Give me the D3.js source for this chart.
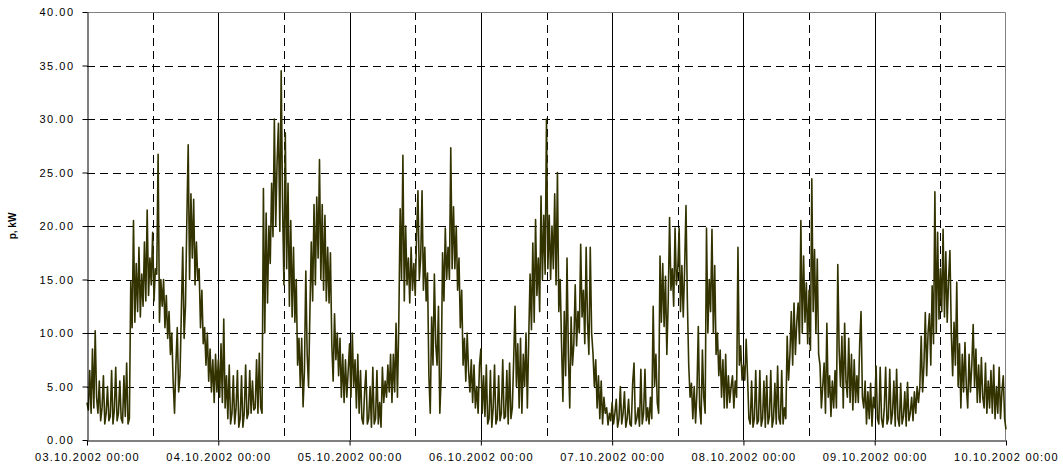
<!DOCTYPE html>
<html>
<head>
<meta charset="utf-8">
<script src="https://cdn.jsdelivr.net/npm/d3@7"></script>
<style>
  body { margin: 0; background: #fff; }
  text { font-family: "Liberation Sans", Arial, sans-serif; }
</style>
</head>
<body>
<div id="chart"></div>
<script>
// quarter-hourly readings, one array per day (kW), 4 values per hour
const day03 = [3.5,2.8,6.5,2.5, 8.5,3.0,10.2,4.0, 2.5,5.5,1.8,3.0, 6.0,1.5,2.5,5.0,
  1.8,2.2,6.5,1.5, 2.8,6.8,1.8,2.5, 5.5,2.0,1.6,6.0, 2.2,7.2,1.5,2.0,
  14.8,10.5,20.5,11.0, 16.5,12.0,18.0,11.5, 15.5,12.5,18.5,13.0, 21.5,13.5,17.0,14.5,
  19.4,13.0,16.0,15.5, 26.7,11.0,15.0,12.5, 15.0,10.5,13.5,9.5, 12.0,8.0,10.0,5.5,
  2.5,7.0,10.5,4.5, 6.0,12.0,18.0,9.5, 12.5,20.5,27.6,15.0, 23.0,17.0,22.5,14.5,
  18.5,15.0,16.0,10.5, 14.0,9.0,10.5,7.0, 10.0,5.5,8.5,4.5, 7.5,3.5,8.0,4.5];
const day04 = [7.5,4.0,9.0,3.5, 11.3,3.0,6.0,2.0, 7.0,1.5,2.5,6.0, 1.5,3.0,6.5,1.2,
  2.0,6.0,1.2,2.5, 7.0,2.0,2.5,6.5, 2.5,5.5,2.8,3.0, 7.5,2.5,8.1,3.0,
  2.5,23.5,10.0,21.2, 12.8,20.0,16.5,24.0, 19.0,30.0,20.0,26.0, 29.6,19.5,34.5,22.0,
  14.5,28.7,16.0,24.0, 12.5,20.5,11.5,18.0, 11.0,15.0,7.0,9.5, 5.0,9.5,3.1,6.5,
  15.8,8.0,5.0,12.0, 18.5,13.0,22.0,14.5, 22.7,17.0,26.2,15.0, 22.0,14.0,21.0,13.0,
  18.0,12.8,17.5,9.0, 5.5,11.8,7.5,10.0, 6.0,9.5,4.0,8.0, 3.5,7.5,4.0,6.5];
const day05 = [9.0,4.0,10.0,5.0, 7.5,3.0,8.0,2.5, 6.5,2.0,1.5,4.5, 6.5,1.5,2.0,5.0,
  1.2,6.8,1.5,2.0, 6.5,1.5,3.5,1.2, 6.8,3.5,5.5,4.0, 7.0,4.5,8.0,3.5,
  8.0,4.5,10.9,4.0, 11.0,21.6,15.0,26.6, 13.0,20.0,14.5,17.0, 12.8,18.0,14.0,16.5,
  13.5,19.0,23.3,15.0, 17.0,23.3,14.0,18.0, 13.0,15.6,6.0,2.5, 11.5,7.0,15.5,9.0,
  7.0,12.5,2.5,6.0, 17.5,13.0,19.8,15.0, 18.0,15.0,27.3,16.0, 21.8,16.0,20.0,14.0,
  17.0,10.5,14.0,7.0, 9.5,5.5,10.0,6.5, 4.5,7.5,3.5,7.0, 3.0,5.0,2.5,7.0];
const day06 = [8.5,2.5,6.0,2.2, 7.0,1.5,2.0,6.5, 1.2,3.0,7.0,1.5, 2.0,6.0,1.8,2.5,
  7.5,2.0,2.2,6.5, 1.5,7.2,2.0,3.0, 7.5,12.5,5.0,9.0, 3.0,9.5,2.5,8.0,
  5.0,10.0,3.0,9.5, 15.5,10.3,18.4,11.0, 20.6,13.5,17.0,12.0, 22.8,15.0,21.0,15.5,
  30.0,16.0,21.0,15.0, 20.0,16.0,23.0,14.5, 25.0,12.0,15.0,9.0, 3.6,12.0,6.0,17.0,
  8.0,3.0,11.5,7.0, 9.0,14.5,8.8,12.0, 10.0,18.3,11.5,14.0, 9.0,18.0,11.0,8.0,
  18.0,10.0,8.1,5.0, 7.5,3.0,6.0,2.0, 5.5,1.5,4.0,2.5, 3.0,1.4,2.5,1.8];
const day07 = [3.5,1.5,2.5,3.8, 1.2,2.0,5.0,1.5, 2.5,4.5,1.2,2.0, 3.8,1.5,1.3,5.3,
  7.2,1.5,2.0,3.0, 1.3,6.6,1.5,2.5, 6.6,1.8,3.0,1.5, 4.0,2.0,12.5,5.0,
  8.0,3.5,2.5,17.2, 11.0,16.5,10.6,15.3, 8.0,13.0,20.8,14.0, 16.0,12.5,19.8,14.5,
  16.0,19.8,12.0,16.3, 11.5,16.0,21.9,13.0, 7.0,4.0,5.3,2.0, 5.0,1.6,4.5,10.6,
  3.0,1.5,8.4,4.0, 2.5,19.8,10.0,15.0, 12.0,19.7,10.0,16.3, 8.0,10.0,6.0,8.4,
  4.0,7.5,3.0,8.0, 3.0,6.0,3.5,5.0, 6.0,3.0,5.5,4.0, 18.0,7.0,8.8,5.6];
const day08 = [7.0,5.6,9.4,6.0, 2.0,1.5,5.5,1.2, 2.0,6.5,1.5,1.8, 6.5,1.3,2.0,5.5,
  1.2,6.0,1.5,2.2, 6.5,1.2,2.0,5.3, 1.5,6.9,2.0,1.5, 6.5,1.5,3.0,2.0,
  9.7,5.6,8.0,12.0, 7.0,12.8,8.0,11.0, 12.8,9.0,20.5,10.0, 17.2,11.0,14.7,9.0,
  14.0,8.4,24.4,12.0, 17.8,10.0,16.9,8.0, 7.0,3.0,5.0,7.2, 2.5,10.9,4.0,6.0,
  2.2,5.5,3.0,6.5, 3.0,16.4,8.4,5.0, 9.7,3.0,10.9,5.5, 4.0,9.5,3.5,8.0,
  2.8,7.5,3.5,6.0, 3.5,9.0,12.0,4.0, 3.0,5.5,1.5,4.5, 2.0,5.3,1.3,4.0];
const day09 = [3.0,6.9,2.0,1.5, 6.8,2.0,1.2,3.0, 6.8,1.5,2.0,6.6, 1.5,2.5,5.5,1.3,
  6.6,2.0,1.3,5.3, 1.5,2.2,4.5,1.3, 5.4,1.8,2.5,4.0, 1.8,4.5,2.5,5.0,
  3.5,5.0,9.7,4.5, 7.0,11.9,6.0,10.0, 11.8,7.0,14.4,9.0, 23.2,10.0,19.4,11.3,
  16.0,12.0,19.7,11.5, 17.6,11.0,15.0,17.7, 10.0,6.0,11.0,7.0, 14.75,5.0,9.0,3.0,
  8.0,4.5,9.1,5.0, 3.0,8.0,4.5,7.0, 10.8,5.0,8.5,3.5, 7.0,3.5,7.7,4.0,
  3.0,7.2,2.5,5.5, 3.0,6.5,2.5,7.0, 2.0,5.0,2.5,6.8, 2.0,4.5,6.0,2.0, 1.0];

const dayStarts = ["2002-10-03","2002-10-04","2002-10-05","2002-10-06",
  "2002-10-07","2002-10-08","2002-10-09"];
const dayValues = [day03, day04, day05, day06, day07, day08, day09];
const yTicks = [0, 5, 10, 15, 20, 25, 30, 35, 40];

const width = 1063, height = 468;
const margin = {top: 12, right: 57, bottom: 28, left: 87};

const parse = d3.timeParse("%Y-%m-%d");
const series = [];
dayValues.forEach((vals, i) => {
  const t0 = parse(dayStarts[i]);
  vals.forEach((v, j) => series.push({t: d3.timeMinute.offset(t0, j * 15), v: v}));
});

const x = d3.scaleTime()
  .domain([parse("2002-10-03"), parse("2002-10-10")])
  .range([margin.left, width - margin.right]);
const y = d3.scaleLinear()
  .domain([0, 40])
  .range([height - margin.bottom, margin.top]);

const svg = d3.select("#chart").append("svg")
  .attr("width", width)
  .attr("height", height);

const days = d3.timeDay.range(parse("2002-10-03"), parse("2002-10-11"));
const noons = days.slice(0, 7).map(d => d3.timeHour.offset(d, 12));

// horizontal dashed gridlines
svg.append("g").selectAll("line")
  .data(yTicks.filter(d => d > 0 && d < 40))
  .join("line")
  .attr("x1", margin.left).attr("x2", width - margin.right)
  .attr("y1", d => Math.round(y(d)) + 0.5).attr("y2", d => Math.round(y(d)) + 0.5)
  .attr("stroke", "#000").attr("stroke-dasharray", "8,5");

// noon dashed lines
svg.append("g").selectAll("line")
  .data(noons)
  .join("line")
  .attr("x1", d => Math.round(x(d)) + 0.5).attr("x2", d => Math.round(x(d)) + 0.5)
  .attr("y1", y(40)).attr("y2", y(0))
  .attr("stroke", "#000").attr("stroke-dasharray", "8,5");

// solid day lines
svg.append("g").selectAll("line")
  .data(days.slice(1, 7))
  .join("line")
  .attr("x1", d => Math.round(x(d)) + 0.5).attr("x2", d => Math.round(x(d)) + 0.5)
  .attr("y1", y(40)).attr("y2", y(0))
  .attr("stroke", "#000");

// plot border (top and right)
svg.append("path")
  .attr("d", `M${margin.left},${y(40) + 0.5}H${width - margin.right - 0.5}V${y(0)}`)
  .attr("fill", "none").attr("stroke", "#808080");

// the load curve
const line = d3.line().x(d => x(d.t)).y(d => y(d.v));
svg.append("path")
  .datum(series)
  .attr("fill", "none")
  .attr("stroke", "#333300")
  .attr("stroke-width", 1.6)
  .attr("stroke-linejoin", "round")
  .attr("d", line);

// axes
const yAxis = svg.append("g")
  .attr("transform", `translate(${margin.left + 0.5},0)`)
  .call(d3.axisLeft(y).tickValues(yTicks).tickFormat(d3.format(".2f"))
    .tickSize(5).tickPadding(8).tickSizeOuter(0));
yAxis.selectAll("text")
  .attr("font-size", 11).attr("fill", "#000")
  .style("letter-spacing", "1.5px");

const xAxis = svg.append("g")
  .attr("transform", `translate(0,${height - margin.bottom + 0.5})`)
  .call(d3.axisBottom(x).tickValues(days).tickFormat(d3.timeFormat("%d.%m.%Y %H:%M"))
    .tickSize(5).tickPadding(8).tickSizeOuter(0));
xAxis.selectAll("text")
  .attr("font-size", 11).attr("fill", "#000")
  .style("letter-spacing", "1.2px");

svg.selectAll(".domain").attr("stroke", "#000");

svg.append("text")
  .attr("transform", `translate(16,${(y(0) + y(40)) / 2}) rotate(-90)`)
  .attr("text-anchor", "middle")
  .attr("font-size", 10)
  .attr("font-weight", "bold")
  .text("p, kW");
</script>
</body>
</html>
